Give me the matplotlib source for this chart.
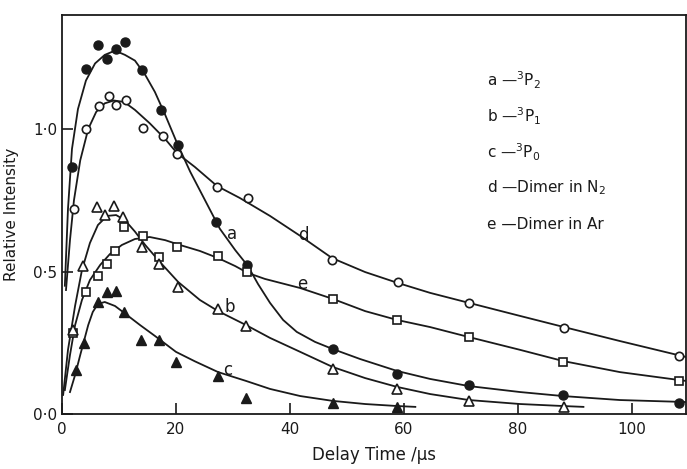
import numpy as np
import matplotlib.pyplot as plt

plt.rcParams['font.family'] = ['DejaVu Sans']
plt.rcParams['mathtext.default'] = 'regular'

# measured points (delay time in us, relative intensity)
a_x = [1.75, 4.2, 6.3, 7.9, 9.5, 11.05, 14.0, 17.4, 20.3, 27.0, 32.5, 47.5, 58.8, 71.4, 87.9, 108.2]
a_y = [0.867, 1.211, 1.295, 1.246, 1.281, 1.305, 1.207, 1.067, 0.944, 0.674, 0.523, 0.228, 0.140, 0.102, 0.067, 0.039]

d_x = [2.1, 4.2, 6.5, 8.2, 9.5, 11.2, 14.2, 17.7, 20.2, 27.2, 32.6, 47.4, 58.9, 71.4, 88.1, 108.2]
d_y = [0.719, 1.0, 1.081, 1.116, 1.084, 1.102, 1.004, 0.975, 0.912, 0.796, 0.758, 0.540, 0.463, 0.389, 0.302, 0.204]

e_x = [1.9, 4.2, 6.3, 7.9, 9.3, 10.9, 14.2, 17.0, 20.2, 27.4, 32.5, 47.5, 58.8, 71.4, 87.9, 108.2]
e_y = [0.284, 0.428, 0.484, 0.526, 0.572, 0.656, 0.625, 0.550, 0.586, 0.554, 0.498, 0.404, 0.330, 0.270, 0.182, 0.116]

b_x = [1.9, 3.7, 6.1, 7.5, 9.1, 10.7, 14.0, 17.0, 20.4, 27.4, 32.3, 47.5, 58.8, 71.4, 88.1]
b_y = [0.295, 0.519, 0.726, 0.698, 0.730, 0.691, 0.586, 0.526, 0.446, 0.368, 0.309, 0.158, 0.088, 0.046, 0.025]

c_x = [2.5, 3.9, 6.3, 7.9, 9.5, 10.9, 13.9, 17.0, 20.0, 27.4, 32.3, 47.5, 58.8]
c_y = [0.154, 0.249, 0.393, 0.428, 0.432, 0.358, 0.260, 0.260, 0.182, 0.133, 0.056, 0.039, 0.025]

# hand drawn fit curves
a_fx = [0.5, 1.05, 1.75, 2.8, 4.2, 5.8, 7.5, 9.3, 11.05, 12.8, 14.6, 16.3, 18.1, 20.2, 22.5, 25.1,
        27.7, 30.4, 32.6, 34.4, 36.5, 38.8, 41.2, 44.4, 47.5, 52.3, 58.8, 64.6, 71.4, 80.4, 87.9, 97.9, 109.5]
a_fy = [0.45, 0.72, 0.93, 1.07, 1.17, 1.23, 1.26, 1.275, 1.26, 1.24, 1.19, 1.13, 1.05, 0.95, 0.85, 0.75,
        0.65, 0.575, 0.52, 0.456, 0.39, 0.33, 0.288, 0.253, 0.228, 0.193, 0.151, 0.123, 0.098, 0.077, 0.063, 0.049, 0.042]

d_fx = [0.7, 1.4, 2.1, 3.2, 4.6, 6.0, 7.5, 9.1, 10.9, 12.8, 15.4, 18.1, 20.2, 23.3, 27.2, 31.2,
        36.5, 41.8, 47.4, 53.2, 58.9, 64.6, 71.4, 80.4, 88.1, 97.9, 109.5]
d_fy = [0.435, 0.61, 0.75, 0.89, 1.0, 1.06, 1.09, 1.10, 1.095, 1.067, 1.02, 0.965, 0.915, 0.867, 0.80, 0.758,
        0.695, 0.625, 0.547, 0.498, 0.46, 0.425, 0.39, 0.344, 0.305, 0.256, 0.20]

e_fx = [0.5, 1.4, 2.3, 3.5, 4.9, 6.7, 8.4, 10.5, 12.8, 15.4, 18.1, 20.7, 24.2, 27.4, 30.4, 32.6,
        35.6, 41.8, 47.5, 53.2, 58.8, 64.6, 71.4, 80.4, 87.9, 97.9, 109.5]
e_fy = [0.084, 0.207, 0.312, 0.40, 0.47, 0.523, 0.561, 0.593, 0.614, 0.621, 0.61, 0.593, 0.572, 0.547, 0.519, 0.495,
        0.474, 0.442, 0.404, 0.361, 0.33, 0.305, 0.27, 0.225, 0.186, 0.147, 0.116]

b_fx = [0.2, 1.05, 2.3, 3.5, 4.9, 6.3, 7.9, 9.5, 11.05, 12.8, 14.6, 17.2, 20.4, 24.2, 27.4, 32.3,
        36.5, 41.8, 47.5, 53.2, 58.8, 64.6, 71.4, 80.4, 87.9, 91.5]
b_fy = [0.067, 0.225, 0.38, 0.505, 0.60, 0.663, 0.695, 0.698, 0.68, 0.64, 0.593, 0.533, 0.463, 0.40, 0.361, 0.312,
        0.267, 0.218, 0.165, 0.126, 0.095, 0.07, 0.049, 0.035, 0.028, 0.025]

c_fx = [1.4, 2.3, 3.2, 4.6, 5.4, 6.3, 7.5, 9.3, 10.7, 13.7, 16.3, 20.0, 23.3, 27.4, 32.3, 36.5,
        41.8, 47.5, 53.2, 58.8, 62.0]
c_fy = [0.077, 0.137, 0.207, 0.312, 0.358, 0.386, 0.393, 0.379, 0.358, 0.312, 0.274, 0.218, 0.185, 0.147, 0.116, 0.088,
        0.063, 0.046, 0.035, 0.028, 0.025]

# curve labels
lab_txt = ['a', 'b', 'c', 'd', 'e']
lab_x = [29.8, 29.5, 29.1, 42.3, 42.1]
lab_y = [0.63, 0.375, 0.154, 0.628, 0.456]

key_txt = ['a —$^3$P$_2$', 'b —$^3$P$_1$', 'c —$^3$P$_0$', 'd —Dimer in N$_2$', 'e —Dimer in Ar']

ink = '#1a1a1a'
fig = plt.figure(figsize=(6.87, 4.69), dpi=100)
ax = fig.add_axes([62/687, 55/469, 624/687, 399/469])

for fx, fy in [(a_fx, a_fy), (d_fx, d_fy), (e_fx, e_fy), (b_fx, b_fy), (c_fx, c_fy)]:
    ax.plot(fx, fy, '-', color=ink, lw=1.3, zorder=2)

ax.plot(a_x, a_y, 'o', color=ink, ms=6.5, zorder=3)
ax.plot(d_x, d_y, 'o', mfc='white', mec=ink, mew=1.2, ms=6, zorder=3)
ax.plot(e_x, e_y, 's', mfc='white', mec=ink, mew=1.2, ms=6, zorder=3)
ax.plot(b_x, b_y, '^', mfc='white', mec=ink, mew=1.2, ms=6.5, zorder=3)
ax.plot(c_x, c_y, '^', color=ink, ms=7, zorder=3)

for t, x, y in zip(lab_txt, lab_x, lab_y):
    ax.text(x, y, t, fontsize=12, color=ink, ha='center', va='center')

for i, t in enumerate(key_txt):
    fig.text(487/687, 1 - (80 + i*36)/469, t, fontsize=11, color=ink, va='center')

ax.set_xlim(0, 109.5)
ax.set_ylim(0, 1.40)
ax.set_xticks([0, 20, 40, 60, 80, 100])
ax.set_yticks([0, 0.5, 1.0])
ax.set_yticklabels(['0·0', '0·5', '1·0'])
ax.tick_params(direction='in', length=8, width=1.2, labelsize=11, colors=ink)
ax.tick_params(axis='x', pad=6)
for s in ax.spines.values():
    s.set_color(ink)
    s.set_linewidth(1.3)

ax.set_xlabel('Delay Time /µs', fontsize=12, color=ink, labelpad=6)
ax.set_ylabel('Relative Intensity', fontsize=11, color=ink, labelpad=10)

fig.savefig('out.png', dpi=100)
